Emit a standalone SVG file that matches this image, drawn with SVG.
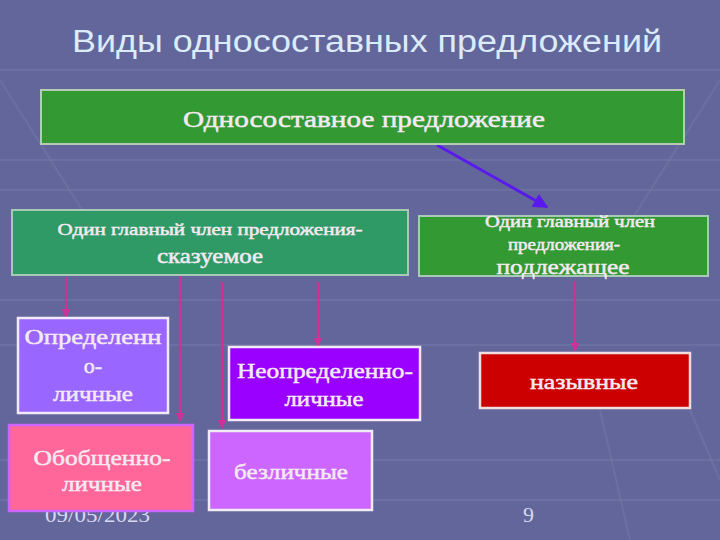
<svg xmlns="http://www.w3.org/2000/svg" width="720" height="540" viewBox="0 0 720 540">
<defs>
<style>
.bg{fill:#63669a}
.grid line{stroke:#7478aa;stroke-width:2;opacity:0.55}
.t{font-family:"Liberation Serif","DejaVu Serif",serif;fill:#f4eaf2;stroke:#f4eaf2;stroke-width:0.5;text-anchor:middle}
.title{font-family:"Liberation Sans",Arial,sans-serif;font-size:31px;fill:#dcebfa;text-anchor:middle}
.foot{font-family:"Liberation Serif","Times New Roman",serif;font-size:22px;fill:#d8d8f0}
.pk{stroke:#cc3399;stroke-width:2.2;fill:none;marker-end:url(#pa)}
</style>
<marker id="pa" viewBox="0 0 10 10" refX="9" refY="5" markerWidth="4.5" markerHeight="4" orient="auto" markerUnits="strokeWidth">
<path d="M0,0 L10,5 L0,10 z" fill="#cc3399"/>
</marker>
<marker id="ba" viewBox="0 0 10 10" refX="9" refY="5" markerWidth="5" markerHeight="5" orient="auto" markerUnits="strokeWidth">
<path d="M0,0 L10,5 L0,10 z" fill="#5a1aee"/>
</marker>
</defs>
<rect class="bg" width="720" height="540"/>
<g class="grid">
<line x1="0" y1="70" x2="720" y2="70"/>
<line x1="0" y1="160" x2="720" y2="160"/>
<line x1="0" y1="190" x2="720" y2="190"/>
<line x1="0" y1="300" x2="720" y2="300"/>
<line x1="0" y1="345" x2="720" y2="345"/>
<line x1="0" y1="460" x2="720" y2="460"/>
<line x1="0" y1="500" x2="720" y2="500"/>
<line x1="0" y1="80" x2="120" y2="270"/>
<line x1="720" y1="80" x2="600" y2="270"/>
<line x1="600" y1="410" x2="630" y2="540"/>
<line x1="690" y1="410" x2="720" y2="480"/>
</g>
<text class="title" x="367" y="52" textLength="590" lengthAdjust="spacingAndGlyphs">Виды односоставных предложений</text>
<text class="foot" x="45" y="522" textLength="105" lengthAdjust="spacingAndGlyphs">09/05/2023</text>
<text class="foot" x="523" y="522">9</text>
<g id="connectors">
<line x1="437" y1="145" x2="547" y2="207" stroke="#5a1aee" stroke-width="3" marker-end="url(#ba)"/>
<line class="pk" x1="66" y1="277" x2="66" y2="317"/>
<line class="pk" x1="180" y1="276" x2="180" y2="421"/>
<line class="pk" x1="222" y1="282" x2="222" y2="428"/>
<line class="pk" x1="318" y1="282" x2="318" y2="346"/>
<line class="pk" x1="575" y1="282" x2="575" y2="351"/>
</g>
<g id="n-root">
<rect x="41" y="90" width="643" height="54" fill="#339933" stroke="#b4ccb4" stroke-width="2"/>
<text class="t" x="364" y="127" font-size="24" textLength="362" lengthAdjust="spacingAndGlyphs">Односоставное предложение</text>
</g>
<g id="n-skaz">
<rect x="12" y="210" width="396" height="65" fill="#2f9a66" stroke="#a8c8b8" stroke-width="2"/>
<text class="t" x="210" y="235" font-size="17" textLength="305" lengthAdjust="spacingAndGlyphs">Один главный член предложения-</text>
<text class="t" x="210" y="263" font-size="22" textLength="106" lengthAdjust="spacingAndGlyphs">сказуемое</text>
</g>
<g id="n-podl">
<rect x="419" y="216" width="289" height="60" fill="#339933" stroke="#a8c8b8" stroke-width="2"/>
<text class="t" x="570" y="227" font-size="16" textLength="170" lengthAdjust="spacingAndGlyphs">Один главный член</text>
<text class="t" x="564" y="250" font-size="16" textLength="112" lengthAdjust="spacingAndGlyphs">предложения-</text>
<text class="t" x="563" y="274" font-size="22" textLength="133" lengthAdjust="spacingAndGlyphs">подлежащее</text>
</g>
<g id="n-opr">
<rect x="18" y="318" width="150" height="95" fill="#9966ff" stroke="#f2eaf4" stroke-width="2.5"/>
<text class="t" x="93" y="344" font-size="22" textLength="137" lengthAdjust="spacingAndGlyphs">Определенн</text>
<text class="t" x="93" y="373" font-size="22">о-</text>
<text class="t" x="93" y="401" font-size="22" textLength="80" lengthAdjust="spacingAndGlyphs">личные</text>
</g>
<g id="n-neopr">
<rect x="229" y="347" width="191" height="73" fill="#9900ff" stroke="#f2eaf4" stroke-width="2.5"/>
<text class="t" x="325" y="378" font-size="22" textLength="176" lengthAdjust="spacingAndGlyphs">Неопределенно-</text>
<text class="t" x="324" y="406" font-size="22" textLength="79" lengthAdjust="spacingAndGlyphs">личные</text>
</g>
<g id="n-nazyv">
<rect x="480" y="353" width="210" height="55" fill="#cc0000" stroke="#f2dede" stroke-width="2.5"/>
<text class="t" x="584" y="389" font-size="22" textLength="108" lengthAdjust="spacingAndGlyphs">назывные</text>
</g>
<g id="n-obob">
<rect x="9" y="425" width="184" height="86" fill="#ff6699" stroke="#cc66ff" stroke-width="2.5"/>
<text class="t" x="102" y="465" font-size="22" textLength="137" lengthAdjust="spacingAndGlyphs">Обобщенно-</text>
<text class="t" x="102" y="491" font-size="22" textLength="80" lengthAdjust="spacingAndGlyphs">личные</text>
</g>
<g id="n-bezl">
<rect x="209" y="431" width="163" height="79" fill="#cc66ff" stroke="#f2eaf4" stroke-width="2.5"/>
<text class="t" x="291" y="479" font-size="22" textLength="114" lengthAdjust="spacingAndGlyphs">безличные</text>
</g>
</svg>
